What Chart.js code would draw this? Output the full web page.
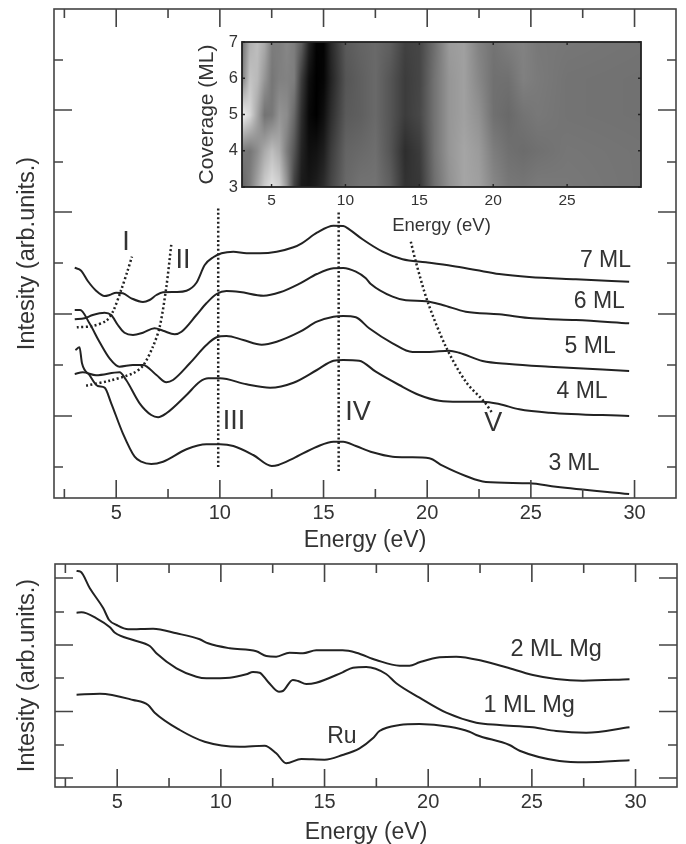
<!DOCTYPE html>
<html>
<head>
<meta charset="utf-8">
<title>Intensity vs energy</title>
<script src="https://cdn.jsdelivr.net/npm/chart.js@4/dist/chart.umd.min.js"></script>
<style>
    html, body { margin: 0; padding: 0; background: #fff; overflow: hidden; }
    #page { position: relative; width: 686px; height: 844px; }
    canvas { position: absolute; }
</style>
</head>
<body>
<div id="page">
    <canvas id="top-chart" width="686" height="552" style="left:0;top:0"></canvas>
    <canvas id="inset-chart" width="460" height="215" style="left:190px;top:25px"></canvas>
    <canvas id="bottom-chart" width="686" height="294" style="left:0;top:550px"></canvas>
</div>
<script>
// Upper panel spectra, arbitrary intensity units
const e7ML = [3, 3.31, 3.63, 4.03, 4.44, 4.68, 5, 5.32, 5.73, 6.29, 6.61, 6.94, 7.26, 7.9, 8.39, 8.87, 9.27, 9.68, 10.08, 10.65, 11.29, 11.94, 12.74, 13.55, 13.95, 14.68, 15.48, 15.95, 16.24, 16.88, 17.85, 18.81, 19.94, 21.22, 22.35, 23.47, 24.92, 27.17, 29.74];
const i7ML = [230.3, 227.3, 217, 207.3, 202, 203, 205.3, 204.7, 199.7, 196, 198, 203, 205.7, 206, 207.3, 215.3, 233, 240.7, 244.7, 246.3, 244.7, 244.7, 246.3, 250.7, 254.7, 265.3, 272.3, 272, 268.7, 258.7, 246.3, 238.7, 235.7, 232, 228, 224, 221, 218.7, 216.3];
const e6ML = [3, 3.47, 3.87, 4.44, 4.76, 5.08, 5.4, 5.81, 6.29, 6.85, 7.26, 7.82, 8.15, 8.87, 9.35, 9.84, 10.32, 10.97, 12.1, 12.9, 13.87, 14.68, 15.48, 15.95, 16.56, 17.04, 17.28, 18.33, 18.97, 19.94, 20.74, 21.86, 23.47, 25.08, 27.17, 29.74];
const i6ML = [178.7, 179.7, 183, 185.3, 183, 173, 165.3, 163, 165.3, 169.7, 167.3, 163.7, 166.3, 183, 194.7, 204, 207, 206, 202.3, 205.7, 214.7, 224, 229.7, 230, 226.3, 219.7, 214, 201.3, 197.7, 196.7, 193, 186.3, 183.7, 179.7, 178, 174.7];
const e5ML = [3, 3.26, 3.71, 4.19, 4.68, 5.16, 5.81, 6.29, 6.94, 7.42, 7.74, 8.55, 9.35, 9.84, 10.32, 11.13, 12.02, 12.74, 13.87, 14.68, 15.48, 15.95, 16.56, 17.2, 18.33, 19.29, 20.1, 21.06, 21.54, 22.67, 23.95, 25.88, 29.74];
const i5ML = [188, 188, 174.7, 156.3, 139.7, 131.3, 133, 133, 123, 115.7, 118, 134.7, 153, 160.7, 162, 158, 153.3, 156.3, 166.3, 176.3, 181.3, 182, 180.7, 169.7, 154.7, 146, 146, 147.3, 145.3, 137, 134, 131.3, 127];
const e4ML = [3, 3.39, 4.03, 5.16, 5.48, 6.13, 6.69, 7.02, 7.42, 8.39, 9.03, 9.44, 10, 11.29, 12.42, 13.55, 14.68, 15.48, 15.95, 16.72, 17.52, 18.65, 19.61, 20.58, 21.54, 22.67, 23.47, 24.44, 25.88, 29.74];
const i4ML = [124, 125.7, 122.7, 125.7, 118, 94.7, 83, 80.7, 84.7, 103, 116.3, 119.7, 119.7, 113.7, 110.3, 115.3, 128, 137.3, 138, 137.3, 126.3, 113, 103, 97.3, 96.3, 96.3, 94, 88.7, 85.3, 82];
const e3ML = [3.03, 3.23, 3.35, 3.71, 4.11, 4.44, 4.76, 5.32, 5.89, 6.21, 6.69, 7.26, 8.39, 9.35, 10, 10.65, 11.61, 12.5, 12.82, 13.55, 14.68, 15.48, 15.95, 16.56, 17.36, 18.33, 19.13, 20.1, 20.74, 21.86, 22.83, 24.92, 26.21, 29.74];
const i3ML = [148, 150.7, 134.7, 123, 112, 110.3, 94.7, 64.7, 41.3, 36.3, 34, 36.3, 48.7, 53.7, 53.7, 52, 43, 32, 33, 39.7, 51.3, 56.3, 56.3, 52, 45.7, 41.3, 40.7, 39.7, 32.3, 22, 16, 14.7, 11.3, 4];

// Dotted guide lines I to V
const eGuideI = [3.1, 3.87, 4.52, 4.84, 5.24, 5.56, 5.76];
const iGuideI = [170.7, 172, 177.3, 186.3, 208, 228, 241.3];
const eGuideII = [3.55, 4.68, 5.81, 6.29, 6.77, 7.1, 7.42, 7.66];
const iGuideII = [112.3, 117.3, 124.7, 132.3, 151.3, 171.3, 211.3, 254];
const eGuideIII = [9.92, 9.92];
const iGuideIII = [31, 291];
const eGuideIV = [15.73, 15.73];
const iGuideIV = [27, 286];
const eGuideV = [19.21, 19.45, 20.02, 20.9, 21.86, 22.75, 23.15];
const iGuideV = [256.3, 236.3, 196.3, 151.3, 116.3, 96.3, 84.7];

// Lower panel spectra
const eMg2 = [3.04, 3.23, 3.68, 4.33, 4.61, 4.97, 5.53, 6.73, 7.86, 8.98, 9.38, 10.43, 11.71, 12.19, 12.67, 13.31, 13.96, 14.6, 15.87, 16.53, 17.49, 18.62, 19.1, 19.58, 20.55, 21.35, 22.64, 23.76, 25.05, 26.17, 27.46, 29.71];
const iMg2 = [216, 215.3, 198.7, 178.7, 167, 162, 157.7, 158.3, 153.7, 147.7, 143.7, 138.7, 135.7, 131, 130.3, 134.3, 133.7, 136.7, 136.7, 134.3, 127, 121.3, 121.3, 124.7, 129.7, 130.3, 126, 119.7, 112, 108, 106.3, 107.7];
const eMg1 = [3.04, 3.28, 4, 4.65, 4.89, 5.77, 6.57, 6.89, 7.86, 8.82, 9.3, 10.43, 11.23, 11.55, 11.87, 12.27, 12.8, 12.99, 13.47, 13.72, 14.12, 14.6, 15.87, 16.37, 17.01, 17.97, 18.46, 19.58, 20.87, 22.32, 23.44, 25.05, 26.17, 27.62, 29.71];
const iMg1 = [174.3, 174.7, 168.7, 159.7, 154.3, 147, 141, 133.7, 118.7, 110.3, 108.7, 109.3, 112.7, 115, 114.3, 105.3, 95.3, 96, 107, 106, 103, 104.3, 114.7, 119.3, 120, 113, 103.7, 89.3, 74.3, 64.3, 62, 59.7, 56, 54.3, 59.7];
const eRu = [3.04, 4.17, 5.77, 6.49, 6.81, 8.02, 9.22, 10.91, 12.11, 12.67, 13.15, 13.88, 15, 15.87, 16.69, 17.33, 17.65, 18.62, 19.58, 21.03, 21.99, 22.32, 23.92, 24.41, 26.33, 27.62, 29.71];
const iRu = [92.3, 93.3, 87, 82, 74.3, 57, 45.3, 40.3, 41.3, 33.7, 23.7, 28, 27.3, 32, 38.7, 48.7, 56, 62, 63, 60.3, 55.3, 52, 42, 36.3, 26, 24.7, 26.7];

// Inset map: grey level per energy column, one row per coverage
const heatEnergy = [3, 3.5, 4, 4.5, 5, 5.5, 6, 6.5, 7, 7.5, 8, 8.5, 9, 10, 11, 12, 13, 14, 15, 16, 17, 18, 19, 20, 21, 22, 23, 25, 30];
const heatCoverage = [3, 4, 5, 6, 7];
const heat3ML = [100, 125, 165, 205, 225, 210, 150, 65, 25, 22, 30, 45, 70, 105, 115, 115, 95, 50, 55, 110, 145, 165, 160, 135, 120, 118, 122, 120, 115];
const heat4ML = [120, 118, 140, 170, 190, 172, 125, 85, 35, 15, 18, 30, 60, 100, 105, 110, 85, 45, 60, 115, 150, 165, 155, 125, 112, 108, 112, 118, 115];
const heat5ML = [240, 215, 165, 115, 120, 148, 140, 105, 45, 8, 0, 15, 45, 90, 95, 105, 85, 60, 72, 115, 150, 160, 145, 112, 105, 115, 120, 115, 113];
const heat6ML = [130, 195, 185, 150, 118, 128, 130, 125, 60, 15, 0, 5, 35, 85, 95, 105, 85, 60, 70, 115, 150, 160, 135, 112, 112, 128, 122, 115, 113];
const heat7ML = [115, 175, 190, 170, 125, 125, 135, 125, 95, 35, 3, 3, 40, 90, 100, 105, 95, 65, 70, 110, 155, 160, 130, 115, 125, 130, 120, 118, 115];

// Tick positions
const energyMajor = [5, 10, 15, 20, 25, 30];
const energyMinor = [2.5, 7.5, 12.5, 17.5, 22.5, 27.5];
const topMajor = [82, 184, 286, 388];
const topMinor = [31, 133, 235, 336, 438];
const bottomMajor = [9, 75.5, 142, 209];
const bottomMinor = [42, 109, 175];
const insetEnergy = [5, 10, 15, 20, 25];
const insetCoverage = [3, 4, 5, 6, 7];

// Text inside the panels, anchored in data coordinates
const topNotes = ['I', 'II', 'III', 'IV', 'V'];
const topNotesE = [5.47, 8.22, 10.68, 16.66, 23.18];
const topNotesI = [255, 237, 76, 85, 74];
const topCurveNames = ['7 ML', '6 ML', '5 ML', '4 ML', '3 ML'];
const topCurveNamesE = [28.6, 28.3, 27.86, 27.47, 27.08];
const topCurveNamesI = [237, 196, 151, 106, 34];
const bottomCurveNames = ['2 ML Mg', '1 ML Mg', 'Ru'];
const bottomCurveNamesE = [26.17, 24.87, 15.84];
const bottomCurveNamesI = [137, 81, 50];

const FONT = '"Liberation Sans", Arial, sans-serif';
const INK = '#333';

function pairs(xs, ys) {
    return xs.map((x, i) => ({ x: x, y: ys[i] }));
}

function curve(xs, ys) {
    return { data: pairs(xs, ys), showLine: true, pointRadius: 0, borderColor: '#222', borderWidth: 2, cubicInterpolationMode: 'monotone', fill: false };
}

function guide(xs, ys) {
    return { data: pairs(xs, ys), showLine: true, pointRadius: 0, borderColor: '#222', borderWidth: 2.5, borderDash: [2, 2.5], tension: 0.3, fill: false };
}

function setTicks(values) {
    return function(scale) {
        scale.ticks = values.slice().sort((a, b) => a - b).map(v => ({ value: v }));
    };
}

// Frame and inward ticks on all four sides, Chart.js only offers outward ones
function frameTicksPlugin(cfg) {
    return {
        id: 'frameTicks',
        afterDraw(chart) {
            const ctx = chart.ctx;
            const a = chart.chartArea;
            const xs = chart.scales.x;
            const ys = chart.scales.y;
            ctx.save();
            ctx.strokeStyle = cfg.color;
            ctx.lineWidth = cfg.frameWidth;
            ctx.strokeRect(a.left, a.top, a.right - a.left, a.bottom - a.top);
            ctx.lineWidth = cfg.tickWidth;
            ctx.beginPath();
            const len = v => (cfg.xMajor.includes(v) ? cfg.long : cfg.short);
            cfg.xMajor.concat(cfg.xMinor).forEach(v => {
                const p = xs.getPixelForValue(v);
                ctx.moveTo(p, a.bottom);
                ctx.lineTo(p, a.bottom - len(v));
                ctx.moveTo(p, a.top);
                ctx.lineTo(p, a.top + len(v));
            });
            cfg.yMajor.concat(cfg.yMinor).forEach(v => {
                const p = ys.getPixelForValue(v);
                const l = cfg.yMajor.includes(v) ? cfg.long : cfg.short;
                ctx.moveTo(a.left, p);
                ctx.lineTo(a.left + l, p);
                ctx.moveTo(a.right, p);
                ctx.lineTo(a.right - l, p);
            });
            ctx.stroke();
            ctx.restore();
        }
    };
}

function notesPlugin(id, groups) {
    return {
        id: id,
        afterDatasetsDraw(chart) {
            const ctx = chart.ctx;
            ctx.save();
            ctx.fillStyle = INK;
            ctx.textAlign = 'center';
            ctx.textBaseline = 'middle';
            groups.forEach(g => {
                g.texts.forEach((t, i) => {
                    ctx.font = (g.sizes ? g.sizes[i] : g.size) + 'px ' + FONT;
                    ctx.fillText(t, chart.scales.x.getPixelForValue(g.xs[i]), chart.scales.y.getPixelForValue(g.ys[i]));
                });
            });
            ctx.restore();
        }
    };
}

function panelOptions(o) {
    return {
        responsive: false,
        animation: false,
        layout: { padding: { top: o.padTop, right: o.padRight, left: 0, bottom: 0 } },
        plugins: { legend: { display: false }, tooltip: { enabled: false } },
        scales: {
            x: {
                type: 'linear',
                min: 2,
                max: 32,
                grid: { display: false, drawTicks: false },
                border: { display: false },
                afterBuildTicks: setTicks(energyMajor.concat(energyMinor)),
                afterFit(s) { s.height = o.xHeight; },
                ticks: {
                    autoSkip: false,
                    maxRotation: 0,
                    padding: 3,
                    color: INK,
                    font: { family: FONT, size: 20 },
                    callback: v => (energyMajor.includes(v) ? String(v) : '')
                },
                title: { display: true, text: 'Energy (eV)', color: INK, font: { family: FONT, size: 23, lineHeight: 1 }, padding: 0 }
            },
            y: {
                type: 'linear',
                min: 0,
                max: o.yMax,
                grid: { display: false, drawTicks: false },
                border: { display: false },
                afterBuildTicks: setTicks(o.yMajor.concat(o.yMinor)),
                afterFit(s) { s.width = o.left; },
                ticks: { display: false },
                title: { display: true, text: 'Intesity (arb.units.)', color: INK, font: { family: FONT, size: 23.5, lineHeight: 1 }, padding: { top: 16, bottom: 0 } }
            }
        }
    };
}

function makeTopChart() {
    const ctx = document.getElementById('top-chart').getContext('2d');
    new Chart(ctx, {
        type: 'scatter',
        data: {
            datasets: [
                curve(e7ML, i7ML), curve(e6ML, i6ML), curve(e5ML, i5ML), curve(e4ML, i4ML), curve(e3ML, i3ML),
                guide(eGuideI, iGuideI), guide(eGuideII, iGuideII), guide(eGuideIII, iGuideIII), guide(eGuideIV, iGuideIV), guide(eGuideV, iGuideV)
            ]
        },
        options: panelOptions({ padTop: 9, padRight: 10, left: 54, xHeight: 54, yMax: 489, yMajor: topMajor, yMinor: topMinor }),
        plugins: [
            frameTicksPlugin({ color: '#444', frameWidth: 1.6, tickWidth: 1.6, long: 18, short: 9, xMajor: energyMajor, xMinor: energyMinor, yMajor: topMajor, yMinor: topMinor }),
            notesPlugin('topNotes', [
                { texts: topNotes, xs: topNotesE, ys: topNotesI, size: 27 },
                { texts: topCurveNames, xs: topCurveNamesE, ys: topCurveNamesI, size: 23 }
            ])
        ]
    });
}

function makeBottomChart() {
    const ctx = document.getElementById('bottom-chart').getContext('2d');
    new Chart(ctx, {
        type: 'scatter',
        data: { datasets: [curve(eMg2, iMg2), curve(eMg1, iMg1), curve(eRu, iRu)] },
        options: panelOptions({ padTop: 14, padRight: 9, left: 55, xHeight: 57, yMax: 223, yMajor: bottomMajor, yMinor: bottomMinor }),
        plugins: [
            frameTicksPlugin({ color: '#444', frameWidth: 1.6, tickWidth: 1.6, long: 18, short: 9, xMajor: energyMajor, xMinor: energyMinor, yMajor: bottomMajor, yMinor: bottomMinor }),
            notesPlugin('bottomNotes', [
                { texts: bottomCurveNames, xs: bottomCurveNamesE, ys: bottomCurveNamesI, sizes: [23.5, 23.5, 23] }
            ])
        ]
    });
}

// Finds the pair of neighbours around v and the position between them
function bracket(list, v) {
    let i = 0;
    while (i < list.length - 2 && v > list[i + 1]) i++;
    const t = (v - list[i]) / (list[i + 1] - list[i]);
    return { i: i, t: Math.max(0, Math.min(1, t)) };
}

const heatPlugin = {
    id: 'heatMap',
    beforeDatasetsDraw(chart) {
        const rows = [heat3ML, heat4ML, heat5ML, heat6ML, heat7ML];
        const a = chart.chartArea;
        const left = Math.round(a.left);
        const top = Math.round(a.top);
        const w = Math.round(a.right) - left;
        const h = Math.round(a.bottom) - top;
        const img = chart.ctx.createImageData(w, h);
        for (let py = 0; py < h; py++) {
            const r = bracket(heatCoverage, chart.scales.y.getValueForPixel(top + py));
            for (let px = 0; px < w; px++) {
                const c = bracket(heatEnergy, chart.scales.x.getValueForPixel(left + px));
                const low = rows[r.i][c.i] * (1 - c.t) + rows[r.i][c.i + 1] * c.t;
                const high = rows[r.i + 1][c.i] * (1 - c.t) + rows[r.i + 1][c.i + 1] * c.t;
                const grey = low * (1 - r.t) + high * r.t;
                const k = (py * w + px) * 4;
                img.data[k] = img.data[k + 1] = img.data[k + 2] = grey;
                img.data[k + 3] = 255;
            }
        }
        chart.ctx.putImageData(img, left, top);
    }
};

function makeInsetChart() {
    const ctx = document.getElementById('inset-chart').getContext('2d');
    new Chart(ctx, {
        type: 'scatter',
        data: { datasets: [] },
        options: {
            responsive: false,
            animation: false,
            layout: { padding: { top: 17, right: 9, left: 0, bottom: 0 } },
            plugins: { legend: { display: false }, tooltip: { enabled: false } },
            scales: {
                x: {
                    type: 'linear',
                    min: 3,
                    max: 30,
                    grid: { display: false, drawTicks: false },
                    border: { display: false },
                    afterBuildTicks: setTicks(insetEnergy),
                    afterFit(s) { s.height = 53; },
                    ticks: { autoSkip: false, maxRotation: 0, padding: 4, color: INK, font: { family: FONT, size: 15.5 } },
                    title: { display: true, text: 'Energy (eV)', color: INK, font: { family: FONT, size: 18.5, lineHeight: 1 }, padding: { top: 0, bottom: 5 } }
                },
                y: {
                    type: 'linear',
                    min: 3,
                    max: 7,
                    grid: { display: false, drawTicks: false },
                    border: { display: false },
                    afterBuildTicks: setTicks(insetCoverage),
                    afterFit(s) { s.width = 52; },
                    ticks: { autoSkip: false, padding: 4, color: INK, font: { family: FONT, size: 16.5 } },
                    title: { display: true, text: 'Coverage (ML)', color: INK, font: { family: FONT, size: 21, lineHeight: 1 }, padding: { top: 7, bottom: 0 } }
                }
            }
        },
        plugins: [
            heatPlugin,
            frameTicksPlugin({ color: '#222', frameWidth: 1.8, tickWidth: 1.4, long: 3, short: 3, xMajor: insetEnergy, xMinor: [], yMajor: insetCoverage, yMinor: [] })
        ]
    });
}

makeTopChart();
makeInsetChart();
makeBottomChart();
</script>
</body>
</html>
